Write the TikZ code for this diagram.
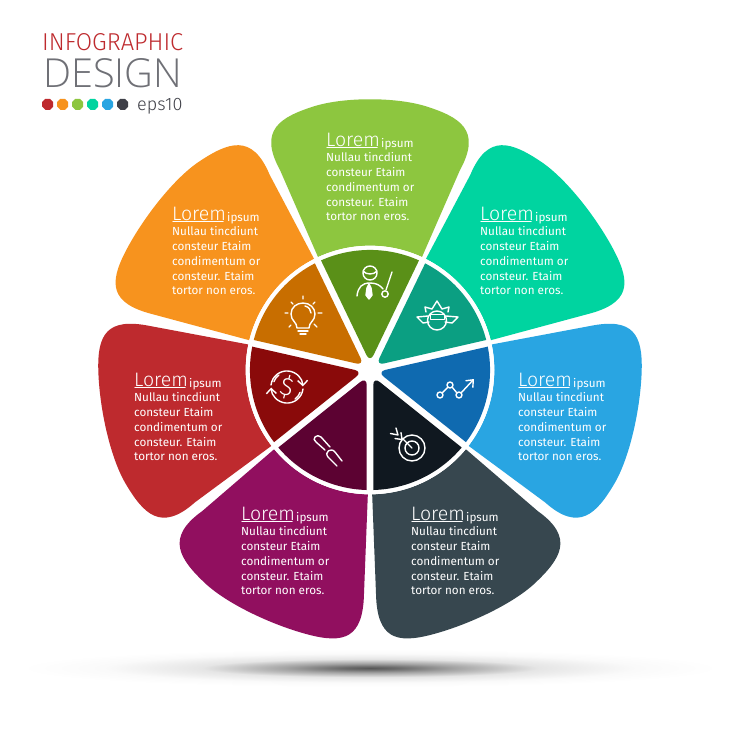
\documentclass[tikz,border=0pt]{standalone}
\usepackage{fontspec}
\setmainfont{Fira Sans}
\newfontfamily\fthin{Fira Sans Light}
\newfontfamily\fdes{Open Sans Light}
\usetikzlibrary{arrows.meta,shapes.geometric}
\definecolor{pgreen}{HTML}{8DC63F}\definecolor{sgreen}{HTML}{5A9018}
\definecolor{pcyan}{HTML}{00D4A0}\definecolor{scyan}{HTML}{0B9F82}
\definecolor{pblue}{HTML}{29A5E2}\definecolor{sblue}{HTML}{0F6AB0}
\definecolor{pgray}{HTML}{37474F}\definecolor{sgray}{HTML}{101820}
\definecolor{ppurple}{HTML}{910F5F}\definecolor{spurple}{HTML}{5C0232}
\definecolor{pred}{HTML}{BE2A2E}\definecolor{sred}{HTML}{8A0A0A}
\definecolor{porange}{HTML}{F7931E}\definecolor{sorange}{HTML}{C86E00}
\definecolor{dark}{HTML}{3F4048}
\pgfdeclareradialshading{floorshadow}{\pgfpoint{0bp}{0bp}}{%
  color(0bp)=(black!66);color(2bp)=(black!58);color(6bp)=(black!36);
  color(12bp)=(black!10);color(19bp)=(black!2);color(25bp)=(white);color(100bp)=(white)}
\tikzset{
  icon/.style={draw=white,line width=1.4pt,line cap=round,line join=round},
  bodyline/.style={anchor=base west,inner sep=0pt,text=white,font=\fontsize{11.7}{14}\selectfont},
  lorem/.style={anchor=base west,inner sep=0pt,text=white,font=\fthin\fontsize{19.5}{22}\selectfont},
  dot/.style={regular polygon,regular polygon sides=8,minimum size=12pt,inner sep=0pt}
}
\newcommand\petaltext[3]{%
  \node[lorem] (#1L) at (#2,#3) {Lorem};
  \draw[white,line width=1.5pt,line cap=round] (#2+1,#3+1.5) -- (#2+51,#3+1.5);
  \node[bodyline] (#1i) at (#2+55,#3+1.5) {ipsum};
  \node[bodyline] (#1a) at (#2,#3+15) {Nullau tincdiunt};
  \node[bodyline] (#1b) at (#2,#3+30) {consteur Etaim};
  \node[bodyline] (#1c) at (#2,#3+45) {condimentum or};
  \node[bodyline] (#1d) at (#2,#3+60) {consteur. Etaim};
  \node[bodyline] (#1e) at (#2,#3+74) {tortor non eros.};
}
\begin{document}
\begin{tikzpicture}[x=1pt,y=-1pt]
\useasboundingbox (0,0) rectangle (740,740);
\fill[white] (0,0) rectangle (740,740);
% floor shadow
\shade[shading=floorshadow] (370,668) ellipse [x radius=350,y radius=19];
% green petal is symmetric
\begin{scope}[shift={(370,370)},x=1pt,y=1pt]
  \fill[pgreen] (-52,113) -- (-90,200) .. controls (-112,240) and (-90,253) .. (-55,264)
    .. controls (-25,273) and (25,273) .. (55,264)
    .. controls (90,253) and (112,240) .. (90,200) -- (52,113)
    arc[start angle=65.3,end angle=114.7,radius=124.4] -- cycle;
\end{scope}
% the others have one larger corner, towards the lower side of the picture
\foreach \a/\p/\f in {38.57/pcyan/1,-12.86/pblue/-1,-64.29/pgray/1,-115.71/ppurple/-1,192.86/pred/1,141.43/porange/-1}{
  \begin{scope}[shift={(370,370)},x=1pt,y=1pt,rotate=\a-90,xscale=\f]
    \fill[\p] (-52,113) -- (-90,200) .. controls (-112,240) and (-90,253) .. (-55,264)
      .. controls (-25,273) and (25,272) .. (60,265)
      .. controls (95,258) and (110,245) .. (92,205) -- (52,113)
      arc[start angle=65.3,end angle=114.7,radius=124.4] -- cycle;
  \end{scope}
}
\draw[white,line width=2.5pt,fill=white] (370,370) circle [radius=123];
\foreach \a/\s in {90/sgreen,38.57/scyan,-12.86/sblue,-64.29/sgray,-115.71/spurple,192.86/sred,141.43/sorange}{
  \begin{scope}[shift={(370,370)},x=1pt,y=1pt,rotate=\a-90]
    \fill[\s] (49,109.6) [rounded corners=8pt] -- (0,7.6) [sharp corners] -- (-49,109.6)
      arc[start angle=114.1,end angle=65.9,radius=120] -- cycle;
  \end{scope}
}
% title
\node[anchor=north west,inner sep=0pt,text={rgb,255:red,190;green,42;blue,46}] (title1) at (42,33)
  {\resizebox{141pt}{17pt}{\fthin INFOGRAPHIC}};
\node[anchor=north west,inner sep=0pt,text=dark!75] (title2) at (43,58)
  {\resizebox{139pt}{29pt}{\fdes DESIGN}};
\foreach \i/\c in {0/pred,1/porange,2/pgreen,3/pcyan,4/pblue,5/dark}{
  \node[dot,fill=\c] (d\i) at (47.7+15*\i,104.3) {};
}
\node[anchor=base west,inner sep=0pt,text=dark,font=\fthin\fontsize{18}{19}\selectfont] (eps) at (137,110) {eps10};
% texts
\petaltext{g}{326}{146}
\petaltext{o}{172}{220}
\petaltext{c}{480}{220}
\petaltext{b}{518}{386}
\petaltext{r}{134}{386}
\petaltext{p}{241}{520}
\petaltext{k}{411}{520}
% person icon
\draw[icon] (370,273) circle [radius=7];
\draw[icon] (363,271) .. controls (366,275) and (374,275) .. (377,271);
\draw[icon] (357,296) .. controls (358,287) and (362,283) .. (370,283) .. controls (376,283) and (380,285) .. (383,289);
\draw[icon,fill=white] (369,284) -- (371,288) -- (372,295) -- (369,299) -- (366,295) -- (367,288) -- cycle;
\draw[icon] (392,272) -- (386,290);
\draw[icon] (385,294) circle [radius=3.2];
% ninja icon
\draw[icon] (437,320.5) circle [radius=9.5];
\draw[icon] (426,312) -- (425,307) -- (432,309) -- (437,301) -- (442,309) -- (449,307) -- (448,312);
\draw[icon] (428,316) -- (417,317) -- (423,323) -- (429,322);
\draw[icon] (446,316) -- (458,317) -- (452,323) -- (445,322);
\draw[icon,line width=1pt] (430,314.5) -- (444,314.5) -- (444,319) -- (430,319) -- cycle;
% chart icon
\draw[icon] (440,395) circle [radius=3] (450,385) circle [radius=3] (459,395) circle [radius=3];
\draw[icon] (442,393) -- (448,387) (452,387) -- (457,393);
\draw[icon,-{Straight Barb[length=6pt,width=10pt]}] (461,393) -- (474,379);
% target icon
\draw[icon] (412,448) circle [radius=13] (412,448) circle [radius=7];
\draw[icon] (412,448) -- (402,438);
\draw[icon] (390.5,433.5) -- (398,435) -- (396,428);
\draw[icon] (395,438.5) -- (402,439.5) -- (401,432.5);
% chain icon
\draw[icon] (330,447) -- (321,437) .. controls (317,433) and (311,439) .. (316,442) -- (325,450);
\draw[icon] (342,461) -- (335,452) .. controls (331,447) and (324,452) .. (328,457) -- (337,466);
% dollar icon
\draw[icon,-{Straight Barb[length=5pt,width=10pt]}] (271,385) arc[start angle=187,end angle=358,radius=16];
\draw[icon,-{Straight Barb[length=5pt,width=10pt]}] (303,389) arc[start angle=7,end angle=178,radius=16];
\draw[icon] (279,375) arc[start angle=235,end angle=200,radius=14];
\draw[icon] (295,399) arc[start angle=55,end angle=20,radius=14];
\node[text=white,inner sep=0pt,rotate=-15,font=\fthin\fontsize{25}{25}\selectfont] (dollar) at (287,387) {\$};
% bulb icon
\draw[icon] (297,328) .. controls (297,322) and (291,321) .. (291,314) .. controls (291,307) and (297,303) .. (303,303)
  .. controls (310,303) and (315,308) .. (315,314) .. controls (315,321) and (309,322) .. (309,328) -- cycle;
\draw[icon] (298,331) -- (308,331) (300,334) -- (306,334);
\draw[icon] (305,306) .. controls (309,307) and (311,310) .. (311,313);
\draw[icon] (285,313) -- (288,313) (318,313) -- (322,313) (303,296) -- (303,299)
  (291,302) -- (293,304) (315,302) -- (313,304) (289,327) -- (291,325) (317,327) -- (314,324);
\end{tikzpicture}
\end{document}
